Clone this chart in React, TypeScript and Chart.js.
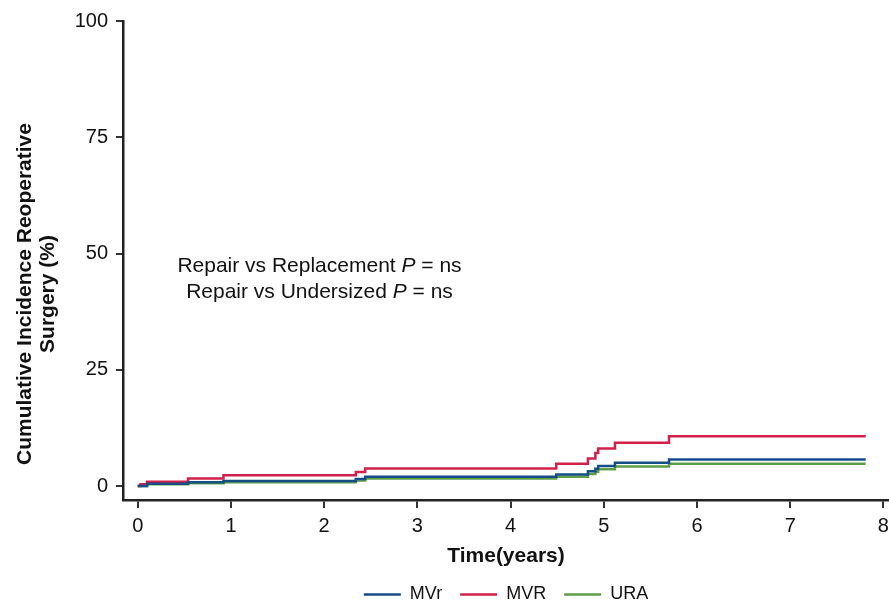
import { useEffect, useRef } from "react";
import { Chart, registerables } from "chart.js";

Chart.register(...registerables);

const FONT = "'Liberation Sans', Arial, Helvetica, sans-serif";

// Cumulative incidence of reoperation (%), step curves by group
const mvrTimes = [0, 0.03, 0.1, 0.54, 0.92, 2.34, 2.44, 4.49, 4.83, 4.91, 4.94, 5.12, 5.7, 7.81];
const mvrValues = [0, 0.4, 0.9, 1.6, 2.3, 3.0, 3.8, 4.8, 5.9, 7.1, 8.1, 9.3, 10.7, 10.7];

const mvrepTimes = [0, 0.1, 0.54, 0.92, 2.34, 2.44, 4.49, 4.83, 4.91, 4.94, 5.12, 5.7, 7.81];
const mvrepValues = [0, 0.5, 0.8, 1.1, 1.5, 2.0, 2.5, 3.2, 3.7, 4.3, 5.0, 5.7, 5.7];

const uraTimes = [0, 0.1, 0.54, 0.92, 2.34, 2.44, 4.49, 4.83, 4.91, 4.94, 5.12, 5.7, 7.81];
const uraValues = [0, 0.4, 0.6, 0.8, 1.2, 1.6, 2.0, 2.6, 3.1, 3.6, 4.2, 4.8, 4.8];

const seriesNames = ["MVr", "MVR", "URA"];
const seriesColors = ["#144d88", "#d51f4b", "#5e9f46"];

const xTickValues = [0, 1, 2, 3, 4, 5, 6, 7, 8];
const yTickValues = [0, 25, 50, 75, 100];

const yTitleLines = ["Cumulative Incidence Reoperative", "Surgery (%)"];
const xTitle = "Time(years)";
const pLabelLines = [
  ["Repair vs Replacement ", "P", " = ns"],
  ["Repair vs Undersized ", "P", " = ns"],
];

const toPoints = (t: number[], v: number[]) => t.map((x, i) => ({ x, y: v[i] }));

// Rotated two-line y-axis title
const yTitlePlugin = {
  id: "yTitle",
  afterDraw(chart: any) {
    const { ctx } = chart;
    ctx.save();
    ctx.translate(0, 294);
    ctx.rotate(-Math.PI / 2);
    ctx.fillStyle = "#111";
    ctx.font = `bold 21px ${FONT}`;
    ctx.textAlign = "center";
    ctx.textBaseline = "middle";
    ctx.fillText(yTitleLines[0], 0, 25);
    ctx.fillText(yTitleLines[1], 0, 48);
    ctx.restore();
  },
};

// P-value note inside the plot, with italic P
const pNotePlugin = {
  id: "pNote",
  afterDraw(chart: any) {
    const { ctx, scales } = chart;
    const cx = scales.x.getPixelForValue(1.95);
    const cy = scales.y.getPixelForValue(45);
    const regular = `21px ${FONT}`;
    const italic = `italic 21px ${FONT}`;
    ctx.save();
    ctx.fillStyle = "#111";
    ctx.textBaseline = "middle";
    ctx.textAlign = "left";
    pLabelLines.forEach((parts, li) => {
      const fonts = [regular, italic, regular];
      const widths = parts.map((p, i) => {
        ctx.font = fonts[i];
        return ctx.measureText(p).width;
      });
      const total = widths.reduce((a, b) => a + b, 0);
      let x = cx - total / 2;
      const y = cy - 11 + li * 26;
      parts.forEach((p, i) => {
        ctx.font = fonts[i];
        ctx.fillText(p, x, y);
        x += widths[i];
      });
    });
    ctx.restore();
  },
};

export default function App() {
  const canvasRef = useRef<HTMLCanvasElement | null>(null);

  useEffect(() => {
    const canvas = canvasRef.current;
    if (!canvas) return;

    const data = [
      toPoints(mvrepTimes, mvrepValues),
      toPoints(mvrTimes, mvrValues),
      toPoints(uraTimes, uraValues),
    ];

    const chart = new Chart(canvas, {
      type: "line",
      data: {
        datasets: seriesNames.map((name, i) => ({
          label: name,
          data: data[i],
          borderColor: seriesColors[i],
          backgroundColor: seriesColors[i],
          borderWidth: 2.5,
          pointRadius: 0,
          stepped: "before" as const,
          fill: false,
        })),
      },
      options: {
        responsive: false,
        animation: false,
        devicePixelRatio: 1,
        layout: { padding: { top: 21, left: 0, right: 0, bottom: -10.5 } },
        plugins: {
          tooltip: { enabled: false },
          legend: {
            position: "bottom",
            fullSize: false,
            labels: {
              boxWidth: 37,
              boxHeight: 0,
              padding: 18,
              color: "#111",
              font: { family: FONT, size: 18 },
            },
          },
        },
        scales: {
          x: {
            type: "linear",
            min: -0.158,
            max: 8.06,
            afterBuildTicks: (s: any) => {
              s.ticks = xTickValues.map((v) => ({ value: v }));
            },
            afterFit: (s: any) => {
              s.height = 67.5;
              s.paddingRight = 0;
              s.paddingLeft = 0;
            },
            ticks: {
              color: "#111",
              padding: 6,
              font: { family: FONT, size: 20 },
              autoSkip: false,
              maxRotation: 0,
            },
            grid: {
              drawOnChartArea: false,
              drawTicks: true,
              tickLength: 8,
              color: "#333",
              lineWidth: 2,
            },
            border: { display: true, color: "#222", width: 2.5 },
            title: {
              display: true,
              text: xTitle,
              color: "#111",
              font: { family: FONT, size: 21, weight: "bold", lineHeight: 1 },
              padding: { top: 0, bottom: 1 },
            },
          },
          y: {
            type: "linear",
            min: -3,
            max: 100,
            afterBuildTicks: (s: any) => {
              s.ticks = yTickValues.map((v) => ({ value: v }));
            },
            afterFit: (s: any) => {
              s.width = 123;
            },
            ticks: {
              color: "#111",
              padding: 8,
              font: { family: FONT, size: 20 },
            },
            grid: {
              drawOnChartArea: false,
              drawTicks: true,
              tickLength: 7,
              color: "#333",
              lineWidth: 2,
            },
            border: { display: true, color: "#222", width: 2.5 },
          },
        },
      },
      plugins: [yTitlePlugin, pNotePlugin],
    });

    return () => chart.destroy();
  }, []);

  return (
    <div style={{ position: "fixed", left: 0, top: 0, width: 889, height: 603, background: "#fff" }}>
      <canvas ref={canvasRef} width={889} height={603} style={{ display: "block" }} />
    </div>
  );
}
